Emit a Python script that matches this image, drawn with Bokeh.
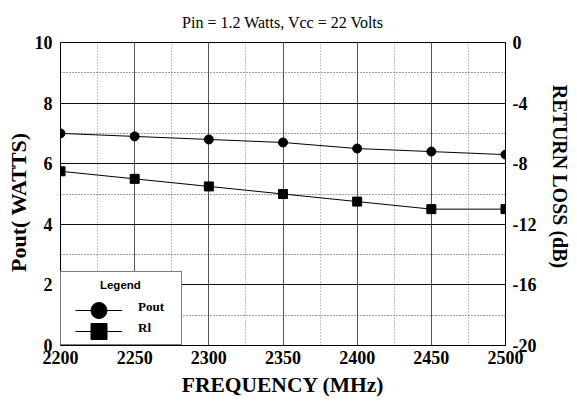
from bokeh.plotting import figure
from bokeh.models import (LinearAxis, Range1d, FixedTicker, Legend, LegendItem,
                          ColumnDataSource, PrintfTickFormatter)
from bokeh.embed import file_html
from bokeh.resources import INLINE

freq = [2200, 2250, 2300, 2350, 2400, 2450, 2500]
pout = [7.0, 6.9, 6.8, 6.7, 6.5, 6.4, 6.3]
rl = [-8.5, -9.0, -9.5, -10.0, -10.5, -11.0, -11.0]

x_ticks = [2200, 2250, 2300, 2350, 2400, 2450, 2500]
x_minor = [2225, 2275, 2325, 2375, 2425, 2475]
y_ticks = [0, 2, 4, 6, 8, 10]
y_minor = [1, 3, 5, 7, 9]
rl_ticks = [-20, -16, -12, -8, -4, 0]
title_text = "Pin = 1.2 Watts, Vcc = 22 Volts"

SERIF = "Liberation Serif"
NB = "\u00a0"

p = figure(width=577, height=409, output_backend="svg", toolbar_location=None,
           x_range=Range1d(2200, 2500), y_range=Range1d(0, 10),
           min_border_left=60, min_border_right=72, min_border_top=42,
           min_border_bottom=64)
p.extra_y_ranges = {"rl": Range1d(-20, 0), "hidden": Range1d(1000, 1001)}

p.title.text = title_text
p.title.align = "center"
p.title.vertical_align = "bottom"
p.title.text_font = SERIF
p.title.text_font_style = "normal"
p.title.text_font_size = "16px"
p.title.text_color = "black"
p.title.standoff = 23

p.outline_line_color = "black"
p.outline_line_width = 1

p.xaxis.ticker = FixedTicker(ticks=x_ticks, minor_ticks=x_minor)
p.yaxis.ticker = FixedTicker(ticks=y_ticks, minor_ticks=y_minor)

p.xgrid.grid_line_color = "#555555"
p.xgrid.minor_grid_line_color = "#888888"
p.ygrid.grid_line_color = "#111111"
p.ygrid.minor_grid_line_color = "#444444"
for g in (p.xgrid[0], p.ygrid[0]):
    g.grid_line_width = 1
    g.minor_grid_line_dash = "1 2"
    g.minor_grid_line_width = 1

for ax in (p.xaxis[0], p.yaxis[0]):
    ax.major_tick_out = 0
    ax.major_tick_in = 0
    ax.minor_tick_out = 0
    ax.minor_tick_in = 0
    ax.axis_line_color = "black"
    ax.major_label_text_font = SERIF
    ax.major_label_text_font_style = "bold"
    ax.major_label_text_font_size = "18px"
    ax.major_label_text_color = "black"
    ax.axis_label_text_font = SERIF
    ax.axis_label_text_font_style = "bold"
    ax.axis_label_text_color = "black"

p.xaxis.axis_label = "FREQUENCY (MHz)"
p.yaxis.axis_label = "Pout( WATTS)" + NB * 3
p.xaxis.axis_label_text_font_size = "21.5px"
p.yaxis.axis_label_text_font_size = "22px"
p.xaxis.major_label_standoff = 5
p.yaxis.major_label_standoff = 8
p.xaxis.axis_label_standoff = 6
p.yaxis.axis_label_standoff = 1

rax = LinearAxis(y_range_name="rl", ticker=FixedTicker(ticks=rl_ticks),
                 formatter=PrintfTickFormatter(format="%d"),
                 axis_label="RETURN LOSS (dB)" + NB * 7)
rax.major_tick_out = 0
rax.major_tick_in = 0
rax.minor_tick_out = 0
rax.minor_tick_in = 0
rax.axis_line_color = "black"
rax.major_label_text_font = SERIF
rax.major_label_text_font_style = "bold"
rax.major_label_text_font_size = "18px"
rax.major_label_text_color = "black"
rax.major_label_standoff = 7
rax.axis_label_text_font = SERIF
rax.axis_label_text_font_style = "bold"
rax.axis_label_text_font_size = "20px"
rax.axis_label_text_color = "black"
rax.axis_label_standoff = 10
p.add_layout(rax, "right")

src = ColumnDataSource(dict(freq=freq, pout=pout, rl=rl))
p.line("freq", "pout", source=src, line_color="black", line_width=1)
p.scatter("freq", "pout", source=src, marker="circle", size=9,
          fill_color="black", line_color="black")
p.line("freq", "rl", source=src, y_range_name="rl", line_color="black", line_width=1)
p.scatter("freq", "rl", source=src, y_range_name="rl", marker="square", size=9,
          fill_color="black", line_color="black")

# ---- legend (proxies drawn in a hidden range; only their legend glyphs show)
blank = p.line("freq", "pout", source=src, y_range_name="hidden", line_alpha=0)
l1 = p.line("freq", "pout", source=src, y_range_name="hidden", line_color="black", line_width=1)
m1 = p.scatter("freq", "pout", source=src, y_range_name="hidden", marker="circle", size=16,
               fill_color="black", line_color="black")
l2 = p.line("freq", "rl", source=src, y_range_name="hidden", line_color="black", line_width=1)
m2 = p.scatter("freq", "rl", source=src, y_range_name="hidden", marker="square", size=16,
               fill_color="black", line_color="black")

# main box: title + labels
legend = Legend(items=[LegendItem(label="Pout", renderers=[blank]),
                       LegendItem(label="Rl", renderers=[blank])],
                location="bottom_left", title=NB * 10 + "Legend")
legend.title_text_font = "Liberation Sans"
legend.title_text_font_size = "11.5px"
legend.title_text_font_style = "bold"
legend.title_text_color = "black"
legend.title_standoff = 7
legend.label_text_font = SERIF
legend.label_text_font_style = "bold"
legend.label_text_font_size = "13px"
legend.label_text_color = "black"
legend.border_line_color = "black"
legend.border_line_width = 1
legend.background_fill_color = "white"
legend.background_fill_alpha = 1.0
legend.margin = 0
legend.padding = 7
legend.spacing = 3
legend.glyph_width = 55
legend.glyph_height = 18
legend.label_standoff = 15
legend.label_width = 36
legend.label_height = 18
p.add_layout(legend, "center")

# big legend symbols, each in its own transparent legend
def symbol_legend(renderers, loc):
    lg = Legend(items=[LegendItem(label=" ", renderers=renderers)], location=loc)
    lg.border_line_color = None
    lg.background_fill_alpha = 0
    lg.margin = 0
    lg.padding = 0
    lg.spacing = 0
    lg.glyph_width = 47
    lg.glyph_height = 40
    lg.label_standoff = 0
    lg.label_width = 0
    lg.label_text_font_size = "1px"
    return lg

p.add_layout(symbol_legend([l1, m1], (15, 15)), "center")
p.add_layout(symbol_legend([l2, m2], (15, -6)), "center")

open("out.html", "w").write(file_html(p, INLINE))
